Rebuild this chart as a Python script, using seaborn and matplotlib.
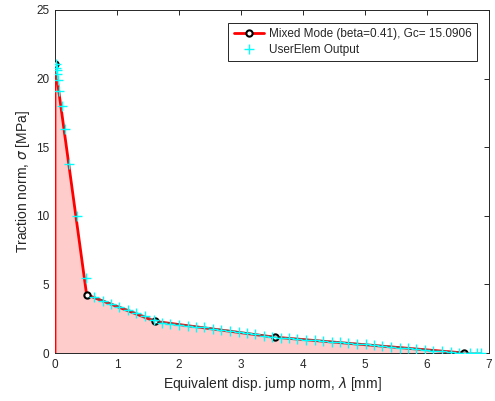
import matplotlib
matplotlib.use("Agg")
import matplotlib.pyplot as plt
import seaborn as sns
import pandas as pd
import numpy as np

# Analytical traction-separation law (red line, black circles)
law_disp = [0.0, 0.0, 0.51, 1.62, 3.55, 6.6]
law_trac = [0.0, 21.1, 4.25, 2.30, 1.15, 0.0]

# UserElem output (cyan plus markers)
ue_disp = [0.01, 0.016, 0.027, 0.037, 0.043, 0.07, 0.11, 0.16, 0.23, 0.35, 0.495,
           0.63, 0.77, 0.90, 1.04, 1.18, 1.31, 1.45, 1.59, 1.73, 1.86, 2.00, 2.14,
           2.27, 2.41, 2.55, 2.68, 2.82, 2.96, 3.09, 3.23, 3.37, 3.50, 3.64, 3.78,
           3.91, 4.05, 4.19, 4.32, 4.46, 4.60, 4.73, 4.87, 5.01, 5.14, 5.28, 5.42,
           5.56, 5.69, 5.83, 5.97, 6.10, 6.24, 6.38, 6.51, 6.69, 6.80, 6.87]
ue_trac = [21.04, 20.8, 20.6, 20.3, 19.9, 19.1, 18.0, 16.3, 13.78, 9.98, 5.49,
           4.05, 3.82, 3.60, 3.38, 3.15, 2.92, 2.68, 2.42, 2.22, 2.14, 2.07, 2.00,
           1.93, 1.86, 1.78, 1.70, 1.62, 1.53, 1.45, 1.36, 1.27, 1.18, 1.12, 1.07,
           1.02, 0.97, 0.92, 0.87, 0.82, 0.77, 0.72, 0.67, 0.62, 0.56, 0.51, 0.46,
           0.40, 0.35, 0.29, 0.24, 0.18, 0.13, 0.08, 0.03, 0.0, 0.0, 0.0]

x_ticks = [0, 1, 2, 3, 4, 5, 6, 7]
y_ticks = [0, 5, 10, 15, 20, 25]

law_label = "Mixed Mode (beta=0.41), Gc= 15.0906"
ue_label = "UserElem Output"

sns.set_style("white")
plt.rcParams['font.family'] = ['Liberation Sans', 'DejaVu Sans']
plt.rcParams['mathtext.fontset'] = 'dejavusans'

axcol = '#262626'
fig = plt.figure(figsize=(4.95, 4.01), dpi=100)
ax = fig.add_axes([55/495, 1-353/401, (489-55)/495, (353-10)/401])

law = pd.DataFrame({"disp": law_disp, "trac": law_trac})
ue = pd.DataFrame({"disp": ue_disp, "trac": ue_trac})

ax.fill_between(law["disp"], law["trac"], 0, facecolor='#ffcccc', edgecolor='none', zorder=1)

sns.lineplot(data=law, x="disp", y="trac", sort=False, estimator=None, ax=ax,
             color='red', linewidth=2, marker='o', markersize=4.5,
             markevery=[1, 2, 3, 4, 5],
             markerfacecolor='white', markeredgecolor='black', markeredgewidth=1.5,
             label=law_label, zorder=3)

soft = ue[ue["disp"] > 0.55]
ax.plot(soft["disp"], soft["trac"], color=(0.35, 0.4, 0.4), alpha=0.55, linewidth=1.3, zorder=3.5)

sns.scatterplot(data=ue, x="disp", y="trac", ax=ax, marker='+', s=55,
                color='cyan', linewidth=1.0, label=ue_label, zorder=4)

ax.set_xlim(0, 7)
ax.set_ylim(0, 25)
ax.set_xticks(x_ticks)
ax.set_yticks(y_ticks)
ax.set_xlabel(r"Equivalent disp. jump norm, $\lambda$ [mm]", fontsize=10, color=axcol, labelpad=3)
ax.set_ylabel(r"Traction norm, $\sigma$ [MPa]", fontsize=10, color=axcol, labelpad=3)
ax.tick_params(direction='in', length=3.5, width=0.7, colors=axcol, labelsize=8.5,
               top=True, right=True, pad=4)
for s in ax.spines.values():
    s.set_visible(True)
    s.set_color(axcol)
    s.set_linewidth(0.7)

leg = ax.legend(loc='upper right', bbox_to_anchor=((477-55)/434, 1-(22.7-10)/343),
                borderaxespad=0, fontsize=8.5, frameon=True, fancybox=False,
                framealpha=1, edgecolor=axcol, handlelength=2.6, handletextpad=0.4,
                borderpad=0.45, labelspacing=0.3)
leg.get_frame().set_linewidth(0.7)

fig.savefig("out.png", dpi=100)
